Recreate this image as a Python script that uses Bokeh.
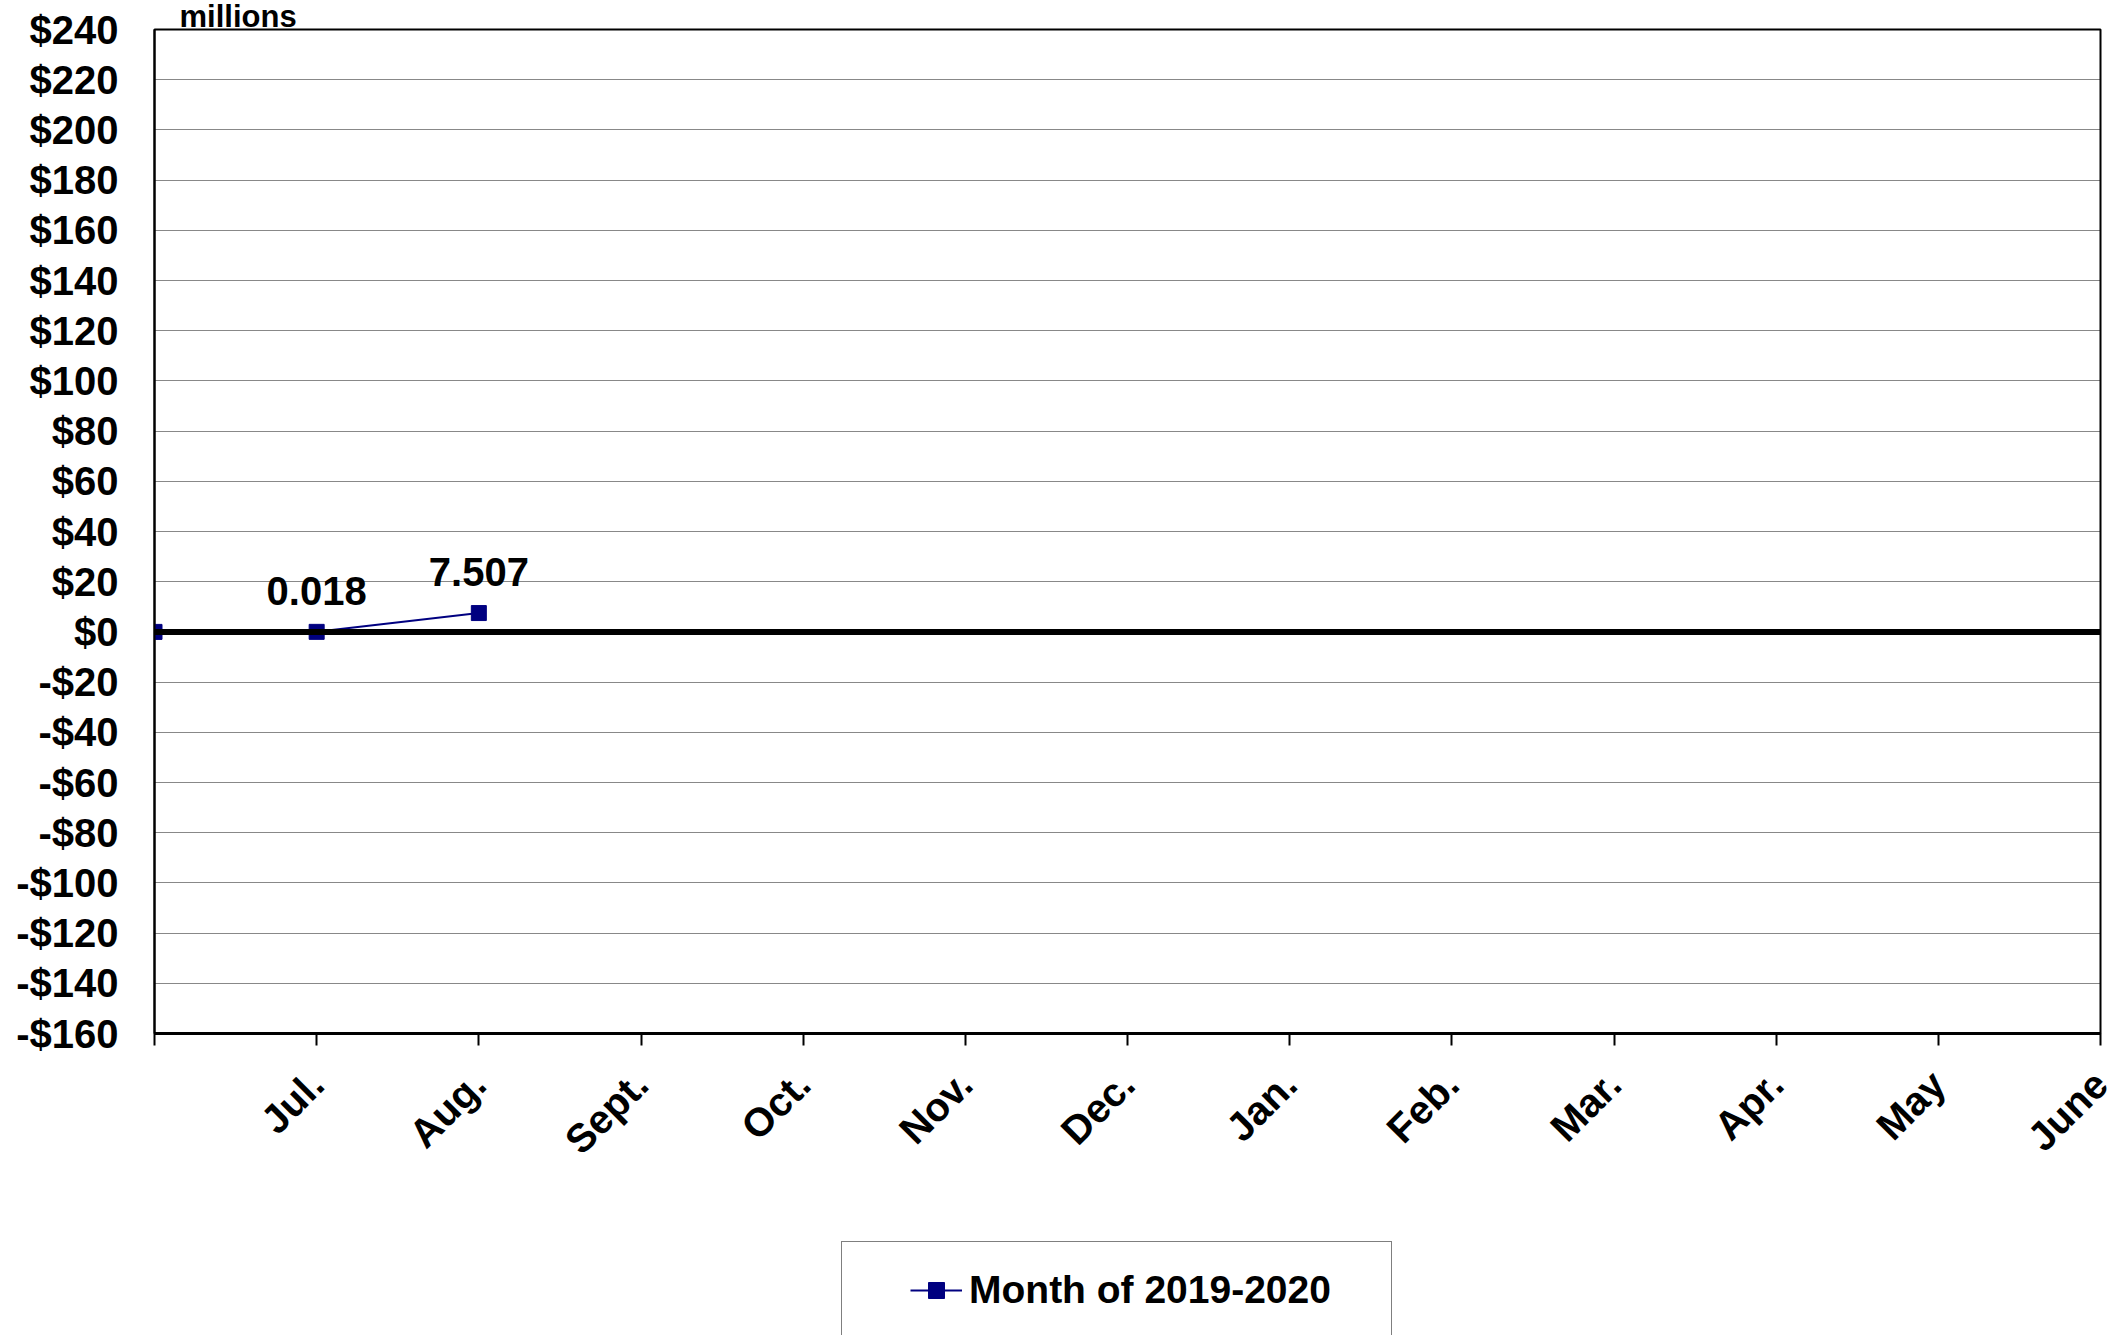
import math
from bokeh.plotting import figure
from bokeh.layouts import column
from bokeh.models import (FixedTicker, Span, Legend, LegendItem, ColumnDataSource,
                          LabelSet, Range1d)
from bokeh.core.properties import value
from bokeh.embed import file_html
from bokeh.resources import INLINE

# ---- data ----
month_pos = [0, 1, 2, 3, 4, 5, 6, 7, 8, 9, 10, 11, 12]
month_labels = ["", "Jul.", "Aug.", "Sept.", "Oct.", "Nov.", "Dec.", "Jan.",
                "Feb.", "Mar.", "Apr.", "May", "June"]
series_x = [0, 1, 2]
series_y = [0.0, 0.018, 7.507]
label_x = [1, 2]
label_y = [0.018, 7.507]
label_text = ["0.018", "7.507"]
y_ticks = [-160, -140, -120, -100, -80, -60, -40, -20, 0, 20, 40, 60, 80,
           100, 120, 140, 160, 180, 200, 220, 240]
y_tick_labels = ["-$160", "-$140", "-$120", "-$100", "-$80", "-$60", "-$40",
                 "-$20", "$0", "$20", "$40", "$60", "$80", "$100", "$120",
                 "$140", "$160", "$180", "$200", "$220", "$240"]
series_name = "Month of 2019-2020"
unit_label = "millions"

FONT = "Liberation Sans"
NAVY = "#000080"

W = 2124
H_MAIN = 1200
H_LEG = 135

p = figure(width=W, height=H_MAIN, output_backend="svg", toolbar_location=None,
           x_range=Range1d(0, 12), y_range=Range1d(-160, 240),
           min_border_left=154, min_border_right=24, min_border_top=29,
           min_border_bottom=H_MAIN - 1033, title=unit_label)
p.background_fill_color = "white"
p.border_fill_color = "white"
p.outline_line_color = "black"
p.outline_line_width = 2

# "millions" as the title, just above the frame
p.title.text_font = FONT
p.title.text_font_style = "bold"
p.title.text_font_size = "31px"
p.title.text_color = "black"
p.title.align = "left"
p.title.offset = 25
p.title.standoff = -9

# y axis
yax = p.yaxis[0]
yax.ticker = FixedTicker(ticks=y_ticks)
yax.major_label_overrides = dict(zip(y_ticks, y_tick_labels))
yax.major_tick_out = 0
yax.major_tick_in = 0
yax.minor_tick_out = 0
yax.minor_tick_in = 0
yax.axis_line_color = "black"
yax.axis_line_width = 2
yax.major_label_standoff = 36
yax.major_label_text_font = FONT
yax.major_label_text_font_style = "bold"
yax.major_label_text_font_size = "40px"
yax.major_label_text_color = "black"

# x axis
xax = p.xaxis[0]
xax.ticker = FixedTicker(ticks=month_pos)
xax.major_label_overrides = dict(zip(month_pos, month_labels))
xax.major_tick_out = 12
xax.major_tick_in = 0
xax.major_tick_line_width = 2
xax.major_tick_line_color = "black"
xax.minor_tick_out = 0
xax.minor_tick_in = 0
xax.axis_line_color = "black"
xax.axis_line_width = 3
xax.major_label_orientation = math.pi / 4
xax.major_label_standoff = 32
xax.major_label_text_font = FONT
xax.major_label_text_font_style = "bold"
xax.major_label_text_font_size = "40px"
xax.major_label_text_color = "black"

# grid
p.xgrid.visible = False
p.ygrid.ticker = FixedTicker(ticks=y_ticks)
p.ygrid.grid_line_color = "#111111"
p.ygrid.grid_line_width = 1
p.ygrid.grid_line_dash = "1 1"

# zero line
p.add_layout(Span(location=0, dimension="width", line_color="black", line_width=6))

# series
src = ColumnDataSource(dict(x=series_x, y=series_y))
p.line("x", "y", source=src, line_color=NAVY, line_width=2)
p.scatter("x", "y", source=src, marker="square", size=15,
          fill_color=NAVY, line_color=NAVY)

lsrc = ColumnDataSource(dict(x=label_x, y=label_y, t=label_text))
p.add_layout(LabelSet(x="x", y="y", text="t", source=lsrc, y_offset=27,
                      text_align="center", text_baseline="alphabetic",
                      text_font=value(FONT), text_font_style="bold",
                      text_font_size="40px", text_color="black"))

# ---- legend strip below the chart (same series, drawn out of its view) ----
q = figure(width=W, height=H_LEG, output_backend="svg", toolbar_location=None,
           x_axis_location=None, y_axis_location=None,
           x_range=Range1d(0, 12), y_range=Range1d(1000, 2000),
           min_border_left=0, min_border_right=0, min_border_top=0,
           min_border_bottom=0)
q.outline_line_color = None
q.xgrid.visible = False
q.ygrid.visible = False
q.background_fill_color = "white"
q.border_fill_color = "white"
lr = q.line("x", "y", source=src, line_color=NAVY, line_width=2)
mr = q.scatter("x", "y", source=src, marker="square", size=15,
               fill_color=NAVY, line_color=NAVY)

legend = Legend(items=[LegendItem(label=series_name, renderers=[lr, mr])],
                location=(687, -3), orientation="vertical", padding=25,
                margin=0, spacing=0,
                label_text_font=FONT, label_text_font_style="bold",
                label_text_font_size="39px", label_text_color="black",
                glyph_width=52, glyph_height=40, label_standoff=7,
                label_height=45, label_width=397,
                border_line_color="black", border_line_width=1,
                background_fill_color="white", background_fill_alpha=1,
                title=" ", title_location="left", title_text_font_size="10px",
                title_standoff=32)
q.add_layout(legend)

layout = column(p, q, spacing=0)
open("out.html", "w").write(file_html(layout, INLINE))
